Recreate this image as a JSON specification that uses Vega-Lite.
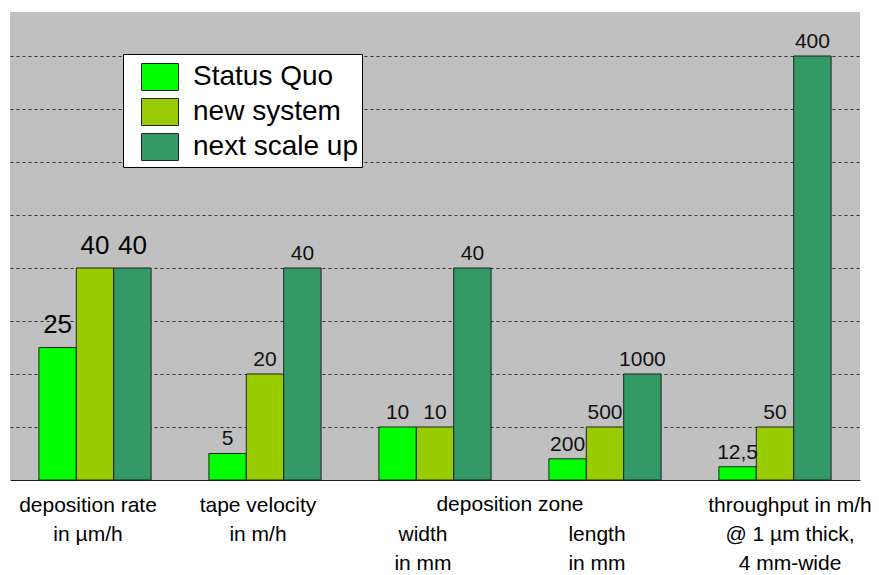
{
  "$schema": "https://vega.github.io/schema/vega-lite/v6.json",
  "width": 850,
  "height": 468,
  "autosize": {"type": "none"},
  "padding": {"left": 10, "top": 12, "right": 19, "bottom": 95},
  "background": "white",
  "view": {"fill": "#C0C0C0", "stroke": null},
  "config": {
    "font": "Liberation Sans",
    "axis": {"labelFont": "Liberation Sans", "labelColor": "black"},
    "legend": {"labelFont": "Liberation Sans", "labelColor": "black"}
  },
  "data": {
    "values": [
      {"group": "rate", "system": "Status Quo", "height": 2.5, "label": "25"},
      {"group": "rate", "system": "new system", "height": 4, "label": "40"},
      {"group": "rate", "system": "next scale up", "height": 4, "label": "40"},
      {"group": "velocity", "system": "Status Quo", "height": 0.5, "label": "5"},
      {"group": "velocity", "system": "new system", "height": 2, "label": "20"},
      {"group": "velocity", "system": "next scale up", "height": 4, "label": "40"},
      {"group": "width", "system": "Status Quo", "height": 1, "label": "10"},
      {"group": "width", "system": "new system", "height": 1, "label": "10"},
      {"group": "width", "system": "next scale up", "height": 4, "label": "40"},
      {"group": "length", "system": "Status Quo", "height": 0.4, "label": "200"},
      {"group": "length", "system": "new system", "height": 1, "label": "500"},
      {"group": "length", "system": "next scale up", "height": 2, "label": "1000"},
      {"group": "throughput", "system": "Status Quo", "height": 0.25, "label": "12,5"},
      {"group": "throughput", "system": "new system", "height": 1, "label": "50"},
      {"group": "throughput", "system": "next scale up", "height": 8, "label": "400"}
    ]
  },
  "encoding": {
    "x": {
      "field": "group",
      "type": "nominal",
      "sort": ["rate", "velocity", "width", "length", "throughput"],
      "scale": {"paddingInner": 0.34, "paddingOuter": 0.17},
      "axis": {
        "title": null,
        "labelAngle": 0,
        "ticks": false,
        "domainColor": "#222222",
        "domainWidth": 1,
        "labelFontSize": 21,
        "labelLineHeight": 29,
        "labelPadding": 14,
        "labelBaseline": "top",
        "labelLimit": 0,
        "labelOverlap": false,
        "labelOffset": {
          "condition": [
            {"test": "datum.value == 'throughput'", "value": 15},
            {"test": "datum.value == 'width'", "value": -12},
            {"test": "datum.value == 'length'", "value": -8}
          ],
          "value": -7
        },
        "labelExpr": "datum.value == 'rate' ? ['deposition rate', 'in µm/h'] : datum.value == 'velocity' ? ['tape velocity', 'in m/h'] : datum.value == 'width' ? ['', 'width', 'in mm'] : datum.value == 'length' ? ['', 'length', 'in mm'] : ['throughput in m/h', '@ 1 µm thick,', '4 mm-wide']"
      }
    },
    "y": {
      "field": "height",
      "type": "quantitative",
      "scale": {"domain": [0, 8.83], "nice": false, "zero": true},
      "axis": {
        "title": null,
        "values": [1, 2, 3, 4, 5, 6, 7, 8],
        "labels": false,
        "ticks": false,
        "domain": false,
        "grid": true,
        "gridColor": "#333333",
        "gridDash": [3, 3],
        "gridWidth": 1
      }
    }
  },
  "layer": [
    {
      "mark": {"type": "bar", "stroke": "#222222", "strokeWidth": 1, "opacity": 1},
      "encoding": {
        "xOffset": {"field": "system", "type": "nominal", "sort": ["Status Quo", "new system", "next scale up"]},
        "color": {
          "field": "system",
          "type": "nominal",
          "scale": {"domain": ["Status Quo", "new system", "next scale up"], "range": ["#00FF00", "#99CC00", "#339966"]},
          "legend": {
            "orient": "none",
            "legendX": 113,
            "legendY": 42,
            "title": null,
            "fillColor": "white",
            "strokeColor": "black",
            "padding": 4,
            "symbolType": "M-1,-0.73L1,-0.73L1,0.73L-1,0.73Z",
            "symbolSize": 1369,
            "symbolStrokeColor": "#222222",
            "symbolStrokeWidth": 1,
            "symbolOpacity": 1,
            "symbolOffset": 14,
            "labelFontSize": 28,
            "labelOffset": 14,
            "labelLimit": 0,
            "rowPadding": 0
          }
        }
      }
    },
    {
      "transform": [{"filter": "datum.group == 'rate'"}],
      "mark": {"type": "text", "fontSize": 26, "baseline": "alphabetic", "dy": -14, "color": "black"},
      "encoding": {
        "xOffset": {"field": "system", "type": "nominal", "sort": ["Status Quo", "new system", "next scale up"]},
        "text": {"field": "label"}
      }
    },
    {
      "transform": [{"filter": "datum.group != 'rate'"}],
      "mark": {"type": "text", "fontSize": 21, "baseline": "alphabetic", "dy": -8, "color": "#111111"},
      "encoding": {
        "xOffset": {"field": "system", "type": "nominal", "sort": ["Status Quo", "new system", "next scale up"]},
        "text": {"field": "label"}
      }
    },
    {
      "transform": [{"filter": "datum.group == 'width' && datum.system == 'new system'"}],
      "mark": {"type": "text", "fontSize": 21, "baseline": "middle", "dx": 75, "dy": 25, "color": "black"},
      "encoding": {
        "y": {"datum": 0, "type": "quantitative"},
        "text": {"value": "deposition zone"}
      }
    }
  ]
}
